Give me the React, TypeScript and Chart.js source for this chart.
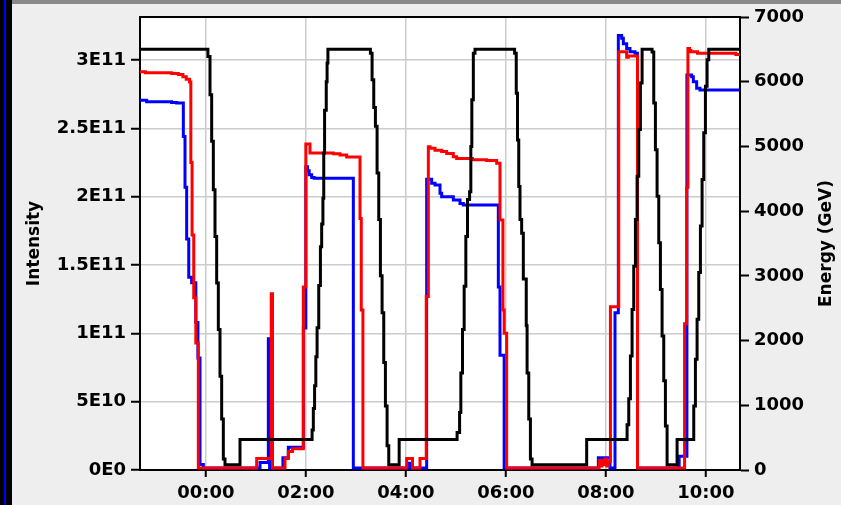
import React, { useEffect, useRef } from 'react';
import { Chart, registerables } from 'chart.js';

Chart.register(...registerables);

// x axis: minutes relative to 00:00
const TIME_MIN = -79;
const TIME_MAX = 641;
const TIME_TICKS = [0, 120, 240, 360, 480, 600];

// left axis: intensity in units of 1E11
const INTENSITY_MAX = 3.315;
const INTENSITY_TICKS = [0, 0.5, 1, 1.5, 2, 2.5, 3];

// right axis: energy in GeV
const ENERGY_MAX = 7000;
const ENERGY_TICKS = [0, 1000, 2000, 3000, 4000, 5000, 6000, 7000];

const LEFT_TITLE = 'Intensity';
const RIGHT_TITLE = 'Energy (GeV)';

// Energy (GeV): [minute, value] change points (sample-and-hold)
const energy: [number, number][] = [
  [-79, 6500],
  [2.5, 6390], [5, 5800], [7, 5080], [9, 4330], [11, 3610], [13, 2890], [15, 2170], [17, 1450], [19, 790], [21, 170], [23, 80],
  [41, 470],
  [127.5, 620], [129, 950], [130.5, 1300], [132, 1750], [133.5, 2200], [135.5, 2850], [137.5, 3450], [139, 3800], [140.5, 4200], [141.5, 4900], [142.5, 5560], [144.5, 6000], [145.5, 6290], [146.5, 6500],
  [197.5, 6440], [199.5, 6030], [201.5, 5600], [203.5, 5310], [205.5, 4590], [207.5, 3870], [209.5, 3000], [211.5, 2430], [213.5, 1660], [215.5, 990], [217.5, 375], [219.5, 80],
  [232, 470],
  [301.5, 580], [304.5, 890], [306, 1500], [308, 2170], [310, 2840], [312, 3610], [314, 4180], [316.5, 4300], [318, 5000], [319.2, 5720], [321, 6440], [323, 6500],
  [370.5, 6440], [372.5, 5820], [374, 5100], [375.5, 4380], [377, 3870], [379, 3660], [381, 2950], [384.5, 2230], [385.5, 1500], [387.5, 790], [389.5, 170], [391.5, 80],
  [457, 470],
  [505.5, 700], [507.5, 1100], [509.5, 1760], [511.5, 2480], [513.5, 3150], [515.5, 3870], [517.5, 4540], [519.5, 5260], [521.5, 5980], [523.5, 6500],
  [535.5, 6460], [537.5, 5670], [539.5, 4950], [541.5, 4230], [543.5, 3510], [545.5, 2790], [547.5, 2070], [549.5, 1380], [551.5, 680], [553.5, 80],
  [565.5, 470],
  [585.5, 990], [587.5, 1710], [589.5, 2330], [591.5, 3050], [593.5, 3770], [595.5, 4490], [597.5, 5210], [599.5, 5930], [601.5, 6340], [603.5, 6500],
  [641, 6500],
];

// Red beam intensity (E11)
const beamRed: [number, number][] = [
  [-79, 2.915], [-72.5, 2.907], [-41, 2.902], [-33, 2.895], [-27.5, 2.878], [-23.5, 2.86], [-19.5, 2.84],
  [-18, 2.25], [-16.5, 1.72], [-14.5, 1.26], [-12, 0.93], [-9, 0.015],
  [61, 0.085], [78.5, 1.29], [80, 0.015],
  [95, 0.085], [99, 0.135], [104, 0.155],
  [117, 1.34], [120, 2.385], [125, 2.32], [153, 2.315], [161, 2.305], [169, 2.29],
  [185, 1.84], [186.5, 1.17], [188.5, 0.015],
  [241, 0.085], [248, 0.015], [257, 0.085],
  [264.5, 1.27], [267, 2.365], [269, 2.355], [275, 2.34], [283, 2.33], [289, 2.317], [297, 2.292], [301, 2.28], [320, 2.27], [337, 2.265], [349, 2.245],
  [353, 1.83], [356.5, 1.17], [358, 1.0], [361, 0.015],
  [472, 0.07], [474, 0.03], [475.5, 0.07], [477, 0.04], [479, 0.08], [481, 0.03], [483, 0.06],
  [485.5, 1.195], [495.5, 3.06], [505, 3.02], [507, 3.03], [518, 0.015],
  [574.5, 1.07], [577, 2.07], [578.5, 3.085], [580.5, 3.07], [582, 3.06], [590, 3.05], [636, 3.04], [641, 3.04],
];

// Blue beam intensity (E11)
const beamBlue: [number, number][] = [
  [-79, 2.705], [-71, 2.695], [-41, 2.69], [-35, 2.685],
  [-27, 2.44], [-25, 2.07], [-23, 1.69], [-20.5, 1.41], [-17, 1.37], [-12, 1.08], [-9.5, 0.82], [-7, 0.04], [-3, 0.015],
  [65, 0.055], [75, 0.96], [76.5, 0.015],
  [92.5, 0.09], [99, 0.166],
  [117, 1.04], [120, 2.22], [122, 2.19], [124, 2.16], [127, 2.14], [130, 2.135],
  [177, 0.015],
  [244, 0.05], [247.5, 0.015],
  [265, 2.127], [271, 2.098], [275, 2.085], [281, 2.025], [283, 2.0], [297, 1.976], [305, 1.951], [309, 1.939],
  [351, 1.34], [353, 0.84], [358, 0.015],
  [471, 0.09], [485, 0.015], [491, 1.15], [495, 3.18], [499, 3.16], [501, 3.12], [505, 3.085], [509, 3.06], [515, 3.05], [518, 0.015],
  [568, 0.1], [577.3, 2.89], [583, 2.878], [585, 2.841], [589, 2.793], [593, 2.78], [641, 2.78],
];

const FONT = '"DejaVu Sans", sans-serif';

function fmtTime(m: number): string {
  const h = Math.floor(m / 60);
  const mm = Math.round(m - h * 60);
  return String(h).padStart(2, '0') + ':' + String(mm).padStart(2, '0');
}

function fmtIntensity(v: number): string {
  if (v === 0) return '0E0';
  if (v < 1) return `${Math.round(v * 10)}E10`;
  return `${v}E11`;
}

const toXY = (arr: [number, number][]) => arr.map(([x, y]) => ({ x, y }));

const framePlugin = {
  id: 'frame',
  beforeDraw(chart: any) {
    const { ctx, chartArea } = chart;
    ctx.save();
    ctx.fillStyle = '#ffffff';
    ctx.fillRect(chartArea.left, chartArea.top, chartArea.right - chartArea.left, chartArea.bottom - chartArea.top);
    ctx.restore();
  },
  beforeDatasetsDraw(chart: any) {
    const { ctx, chartArea } = chart;
    ctx.save();
    ctx.strokeStyle = '#000';
    ctx.lineWidth = 2;
    ctx.beginPath();
    ctx.moveTo(chartArea.left - 1, chartArea.top);
    ctx.lineTo(chartArea.right + 1, chartArea.top);
    ctx.stroke();
    ctx.restore();
  },
  afterDraw(chart: any) {
    // right-hand axis title, reading bottom-to-top like the left one
    const { ctx, chartArea } = chart;
    const s = chart.scales.y1;
    ctx.save();
    ctx.fillStyle = '#000';
    ctx.font = `bold 17px ${FONT}`;
    ctx.textAlign = 'center';
    ctx.textBaseline = 'middle';
    ctx.translate(s.right - 14, (chartArea.top + chartArea.bottom) / 2);
    ctx.rotate(-Math.PI / 2);
    ctx.fillText(RIGHT_TITLE, 0, 0);
    ctx.restore();
  },
};

export default function App() {
  const ref = useRef<HTMLCanvasElement | null>(null);

  useEffect(() => {
    if (!ref.current) return;
    Chart.defaults.font.family = FONT;
    const tickFont = { family: FONT, size: 18, weight: 'bold' as const };
    const titleFont = { family: FONT, size: 17, weight: 'bold' as const };
    const lineDs = (label: string, data: [number, number][], color: string, axis: string) => ({
      label,
      data: toXY(data),
      yAxisID: axis,
      borderColor: color,
      backgroundColor: color,
      borderWidth: 3,
      pointRadius: 0,
      stepped: true as const,
      fill: false,
      tension: 0,
    });
    const chart = new Chart(ref.current, {
      type: 'line',
      data: {
        datasets: [
          lineDs('Energy', energy, '#000000', 'y1'),
          lineDs('Beam 2', beamRed, '#ff0000', 'y'),
          lineDs('Beam 1', beamBlue, '#0000ff', 'y'),
        ],
      },
      options: {
        animation: false,
        responsive: false,
        devicePixelRatio: 1,
        layout: { padding: { left: 14, right: 0, top: 17, bottom: 0 } },
        plugins: { legend: { display: false }, tooltip: { enabled: false } },
        scales: {
          x: {
            type: 'linear',
            min: TIME_MIN,
            max: TIME_MAX,
            afterBuildTicks: (s: any) => { s.ticks = TIME_TICKS.map((v) => ({ value: v })); },
            afterFit: (s: any) => { s.height = 35; },
            ticks: { callback: (v: any) => fmtTime(Number(v)), font: tickFont, color: '#000', padding: 6, maxRotation: 0, autoSkip: false },
            grid: { color: '#cccccc', lineWidth: 1.5, tickColor: '#000', tickLength: 7, tickWidth: 2 },
            border: { color: '#000', width: 2 },
          },
          y: {
            type: 'linear',
            position: 'left',
            min: 0,
            max: INTENSITY_MAX,
            afterBuildTicks: (s: any) => { s.ticks = INTENSITY_TICKS.map((v) => ({ value: v })); },
            afterFit: (s: any) => { s.width = 126; },
            ticks: { callback: (v: any) => fmtIntensity(Number(v)), font: tickFont, color: '#000', padding: 5 },
            grid: { color: '#cccccc', lineWidth: 1.5, tickColor: '#000', tickLength: 9, tickWidth: 2 },
            border: { color: '#000', width: 2 },
            title: { display: true, text: LEFT_TITLE, font: titleFont, color: '#000', padding: { top: 10, bottom: 0 } },
          },
          y1: {
            type: 'linear',
            position: 'right',
            min: 0,
            max: ENERGY_MAX,
            afterBuildTicks: (s: any) => { s.ticks = ENERGY_TICKS.map((v) => ({ value: v })); },
            afterFit: (s: any) => { s.width = 101; },
            ticks: { callback: (v: any) => String(v), font: tickFont, color: '#000', padding: 5 },
            grid: { drawOnChartArea: false, color: '#000', tickColor: '#000', tickLength: 9, tickWidth: 2 },
            border: { color: '#000', width: 2 },
          },
        },
      },
      plugins: [framePlugin],
    } as any);
    return () => chart.destroy();
  }, []);

  return (
    <div style={{ position: 'fixed', left: 0, top: 0, width: 841, height: 505, background: '#eeeeee', overflow: 'hidden' }}>
      <canvas ref={ref} width={841} height={505} style={{ position: 'absolute', left: 0, top: 0, width: 841, height: 505 }} />
      <div style={{ position: 'absolute', left: 0, top: 0, width: 12, height: 505, background: '#000' }} />
      <div style={{ position: 'absolute', left: 4, top: 0, width: 2, height: 505, background: '#0000ff' }} />
      <div style={{ position: 'absolute', left: 12, top: 0, width: 829, height: 4, background: '#8a8a8a' }} />
    </div>
  );
}
